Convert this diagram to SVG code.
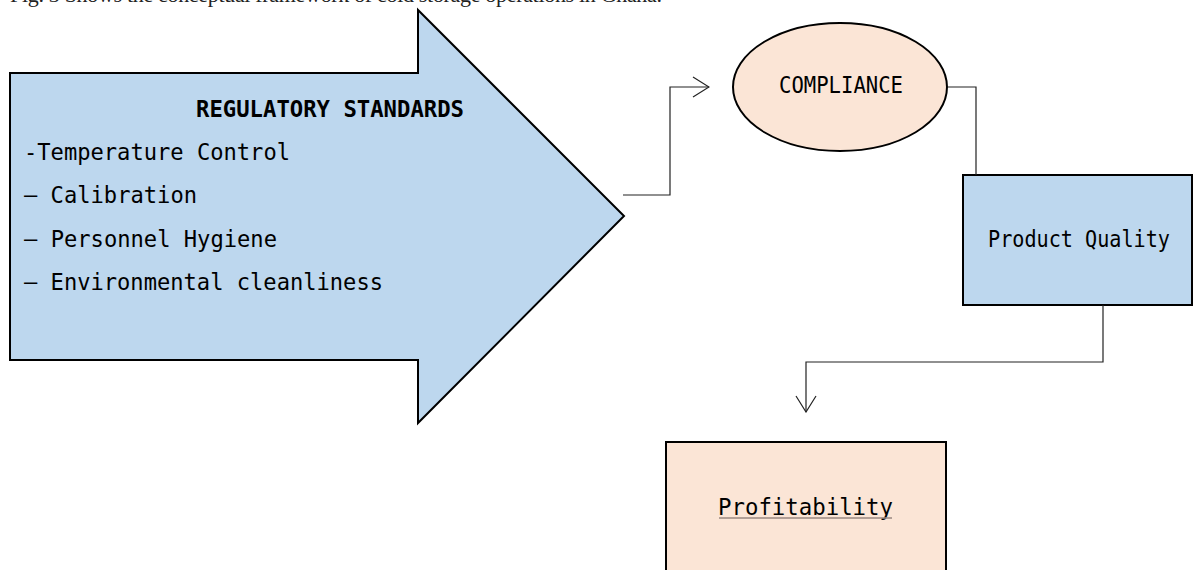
<svg xmlns="http://www.w3.org/2000/svg" width="1194" height="570" viewBox="0 0 1194 570">
<style>
.mono{font-family:"DejaVu Sans Mono","Liberation Mono",monospace;font-size:23px;fill:#000}
.bold{font-weight:bold}
.cap{font-family:"Liberation Serif","Times New Roman",serif;font-size:22px;fill:#222}
.blue{fill:#BDD7EE;stroke:#000;stroke-width:2}
.peach{fill:#FBE5D6;stroke:#000;stroke-width:2}
.conn{fill:none;stroke:#222;stroke-width:1.2}
</style>
<defs>
<marker id="open" markerUnits="userSpaceOnUse" viewBox="0 0 18 22" refX="17" refY="11" markerWidth="18" markerHeight="22" orient="auto">
<path d="M1,1 L17,11 L1,21" fill="none" stroke="#222" stroke-width="1.2"/>
</marker>
</defs>
<text class="cap" x="10" y="1.5" textLength="652" lengthAdjust="spacing">Fig. 3 Shows the conceptual framework of cold storage operations in Ghana.</text>
<g id="regulatory-standards">
<polygon class="blue" points="10,73 418,73 418,10 624,216 418,423 418,360 10,360"/>
<text class="mono bold" x="196" y="117" textLength="268" lengthAdjust="spacingAndGlyphs">REGULATORY STANDARDS</text>
<text class="mono" x="24" y="160" textLength="266" lengthAdjust="spacingAndGlyphs">-Temperature Control</text>
<text class="mono" x="24" y="203" textLength="173" lengthAdjust="spacingAndGlyphs">– Calibration</text>
<text class="mono" x="24" y="247" textLength="253" lengthAdjust="spacingAndGlyphs">– Personnel Hygiene</text>
<text class="mono" x="24" y="290" textLength="359" lengthAdjust="spacingAndGlyphs">– Environmental cleanliness</text>
</g>
<g id="compliance">
<ellipse class="peach" cx="840" cy="87" rx="107" ry="64"/>
<text class="mono" x="779" y="93" textLength="124" lengthAdjust="spacingAndGlyphs">COMPLIANCE</text>
</g>
<g id="product-quality">
<rect class="blue" x="963" y="175" width="229" height="130" stroke-width="2.5"/>
<text class="mono" x="988" y="247" textLength="182" lengthAdjust="spacingAndGlyphs">Product Quality</text>
</g>
<g id="profitability">
<rect class="peach" x="666" y="442" width="280" height="150" stroke-width="2.5"/>
<text class="mono" x="718" y="515" font-size="25" textLength="175" lengthAdjust="spacingAndGlyphs">Profitability</text>
<line x1="719" y1="518" x2="892" y2="518" stroke="#9a8780" stroke-width="1.5"/>
</g>
<g id="connectors">
<polyline class="conn" points="623,195 670,195 670,87 709,87" marker-end="url(#open)"/>
<polyline class="conn" points="948,87 976,87 976,175"/>
<polyline class="conn" points="1103,305 1103,362 806,362 806,412" marker-end="url(#open)"/>
</g>
</svg>
